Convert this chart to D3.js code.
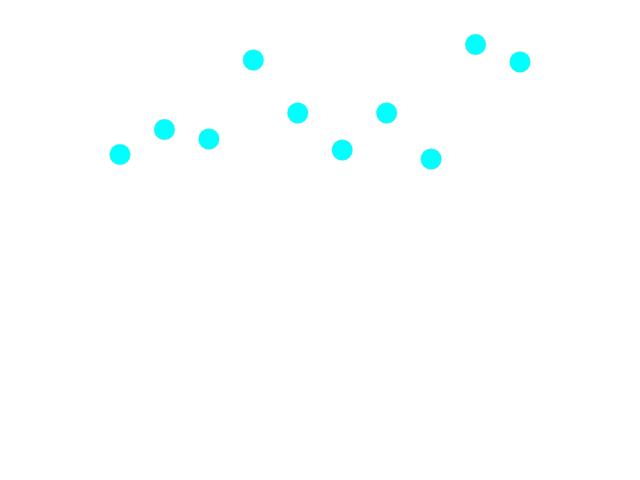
<!DOCTYPE html>
<html>
<head>
<meta charset="utf-8">
<script src="https://cdn.jsdelivr.net/npm/d3@7"></script>
<style>
  html, body { margin: 0; padding: 0; background: #fff; }
  svg { display: block; }
</style>
</head>
<body>
<svg></svg>
<script>
const width = 640, height = 480;

// Data
const indices = [0, 1, 2, 3, 4, 5, 6, 7, 8, 9];
const values = [325.5, 350.5, 341, 420, 367, 330, 367, 321, 435.5, 418];

const svg = d3.select("svg").attr("width", width).attr("height", height);

const x = d3.scaleLinear().domain([0, 9]).range([120, 520]);
const y = d3.scaleLinear().domain([0, 480]).range([480, 0]);

svg.selectAll("circle")
    .data(indices)
    .enter().append("circle")
    .attr("cx", d => x(d))
    .attr("cy", d => y(values[d]))
    .attr("r", 10.5)
    .attr("fill", "#00FFFF")
    .attr("stroke", "#ccc")
    .attr("stroke-width", 0.3);
</script>
</body>
</html>
